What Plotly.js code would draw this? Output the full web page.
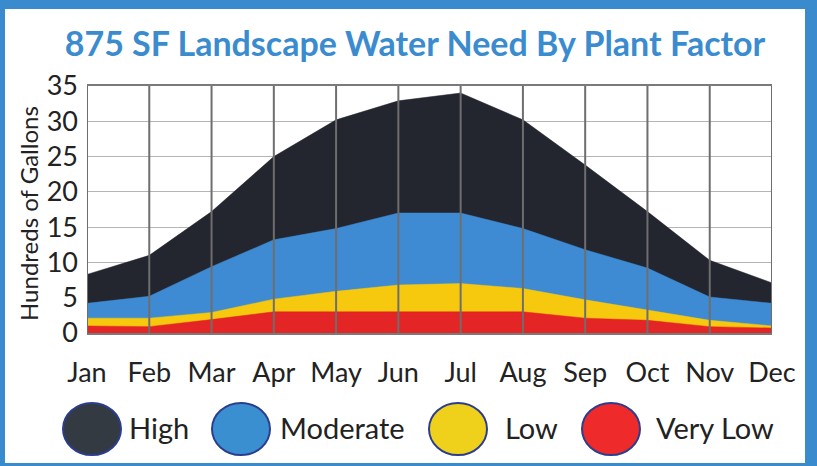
<!DOCTYPE html>
<html>
<head>
<meta charset="utf-8">
<script src="https://cdn.plot.ly/plotly-3.0.1.min.js"></script>
<style>
  html, body { margin: 0; padding: 0; background: #3a8bcd; width: 817px; height: 466px; overflow: hidden; }
  #chart { position: absolute; left: 5px; top: 9px; width: 800px; height: 454px; background: #fff; }
</style>
</head>
<body>
<div id="chart"></div>
<script>
// ---- data (hundreds of gallons) ----
const months = ["Jan","Feb","Mar","Apr","May","Jun","Jul","Aug","Sep","Oct","Nov","Dec"];
const high     = [8.3, 11.0, 17.2, 25.0, 30.2, 32.9, 34.0, 30.2, 23.8, 17.2, 10.3, 7.1];
const moderate = [4.2, 5.2, 9.4, 13.2, 14.8, 17.0, 17.0, 14.8, 11.8, 9.2, 5.1, 4.2];
const low      = [2.1, 2.1, 2.9, 4.8, 5.9, 6.8, 7.0, 6.3, 4.7, 3.2, 1.8, 1.0];
const veryLow  = [1.0, 0.9, 1.9, 3.0, 3.0, 3.0, 3.0, 3.0, 2.1, 1.8, 0.9, 0.7];
const seriesNames = ["High", "Moderate", "Low", "Very Low"];
const yTicks = [0, 5, 10, 15, 20, 25, 30, 35];

const fills = ["#23252f", "#3f8bd3", "#f6c90e", "#e42525"];
const legendFills = ["#333a42", "#3a8fd0", "#efd11b", "#ee2a2a"];
const seriesData = [high, moderate, low, veryLow];

const traces = seriesData.map((vals, i) => ({
  type: "scatter", mode: "lines", x: months, y: vals, name: seriesNames[i],
  fill: "tozeroy", fillcolor: fills[i],
  line: { color: fills[i], width: 0.5 }, hoverinfo: "x+y+name", showlegend: false
}));

// plot area geometry in page pixels
const PL = 87, PR = 772, PT = 86, PB = 333;
const W = 800, H = 454, OX = 5, OY = 9;
const px = x => (x - PL) / (PR - PL);
const py = y => (PB - y) / (PB - PT);

const shapes = months.map(m => ({
  type: "line", xref: "x", yref: "paper", x0: m, x1: m, y0: 0, y1: 1,
  line: { color: "#6e6e6e", width: 2 }, layer: "above"
}));

// legend ellipses
const ellX = [[63, 121], [212, 270], [429, 487], [582, 640]];
const txtX = [127, 278, 503, 654];
ellX.forEach((e, i) => {
  shapes.push({
    type: "circle", xref: "paper", yref: "paper",
    x0: px(e[0]), x1: px(e[1]), y0: py(455), y1: py(403),
    fillcolor: legendFills[i], line: { color: "#2b3d8e", width: 2 }, layer: "above"
  });
});

const annotations = seriesNames.map((n, i) => ({
  text: n, xref: "paper", yref: "paper", x: px(txtX[i]), y: py(427),
  xanchor: "left", yanchor: "middle", showarrow: false,
  font: { family: "Lato", size: 29, color: "#222" }
}));
annotations.push({
  text: "Hundreds of Gallons", xref: "paper", yref: "paper",
  x: px(28), y: py(214), textangle: -90, xanchor: "center", yanchor: "middle",
  showarrow: false, font: { family: "Lato", size: 24, color: "#222" }
});

const layout = {
  width: W, height: H,
  margin: { l: PL - OX, r: W - (PR - OX), t: PT - OY, b: H - (PB - OY), pad: 0 },
  paper_bgcolor: "#ffffff", plot_bgcolor: "#ffffff",
  title: {
    text: "875 SF Landscape Water Need By Plant Factor",
    xref: "container", yref: "container", x: (415 - OX) / W, y: 1 - (44 - OY) / H,
    xanchor: "center", yanchor: "middle",
    font: { family: "Lato", size: 34, color: "#3a8ccf", weight: "bold" }
  },
  xaxis: {
    type: "category", range: [0, months.length - 1], showgrid: false,
    showline: true, mirror: true, linecolor: "#7a7a7a", linewidth: 2,
    ticks: "", ticklabelstandoff: 15,
    tickfont: { family: "Lato", size: 27, color: "#222" }, fixedrange: true, zeroline: false
  },
  yaxis: {
    range: [0, 35], tickvals: yTicks, ticktext: yTicks.map(String),
    showgrid: true, gridcolor: "#b5b5b5", gridwidth: 1, zeroline: false,
    ticks: "", ticklabelstandoff: 8,
    tickfont: { family: "Lato", size: 27, color: "#222" }, fixedrange: true
  },
  shapes: shapes,
  annotations: annotations,
  showlegend: false
};

Plotly.newPlot("chart", traces, layout, { displayModeBar: false, staticPlot: true });
</script>
</body>
</html>
